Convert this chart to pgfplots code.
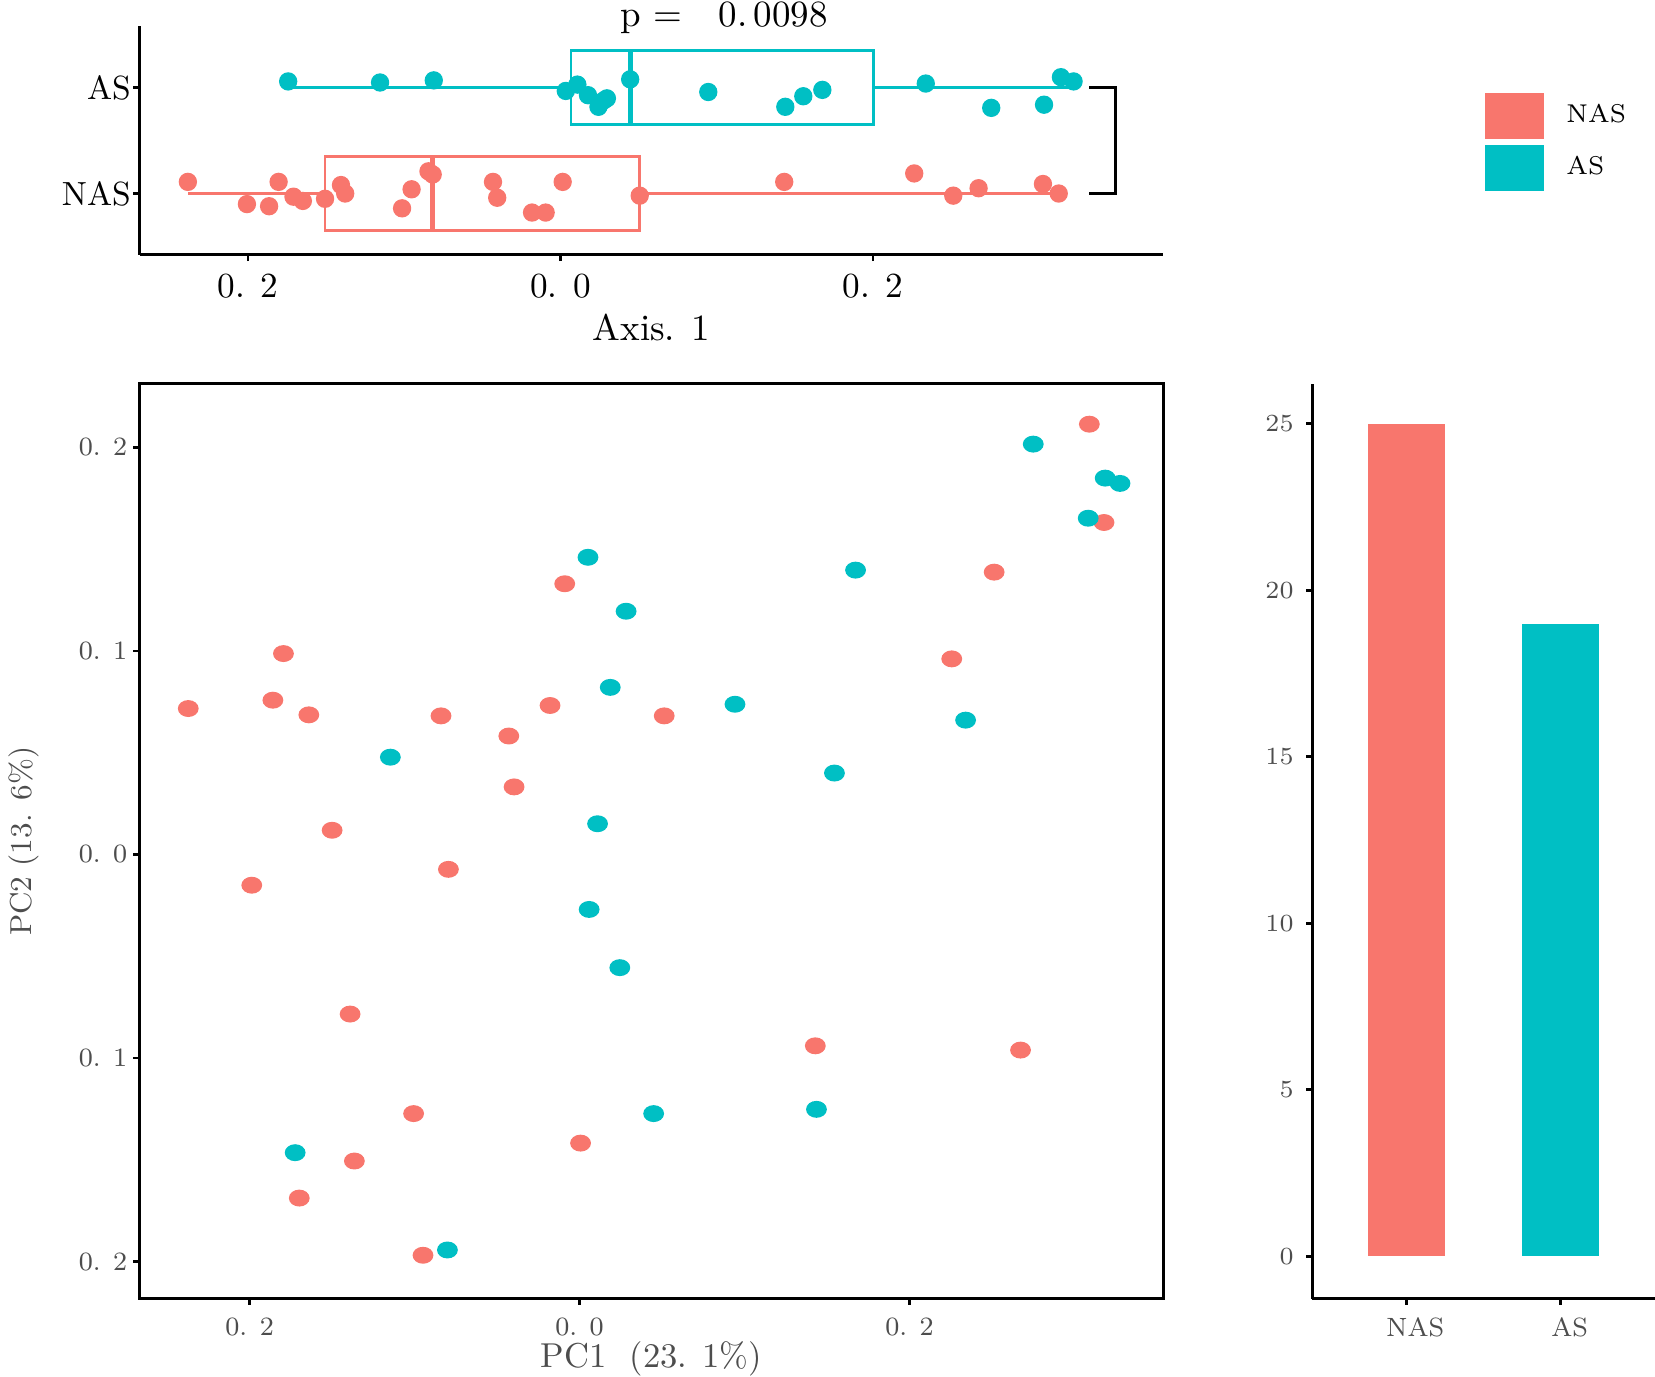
\documentclass[border=0pt]{standalone}
\usepackage{pgfplots}
\pgfplotsset{compat=1.18}
\usepgfplotslibrary{statistics}
\definecolor{nasred}{HTML}{F8766D}
\definecolor{asteal}{HTML}{00BFC4}
\definecolor{tickgray}{HTML}{4D4D4D}
\begin{document}
\begin{tikzpicture}
\useasboundingbox (0,0) rectangle (469.5pt,-390.6pt);
% ---------------- top boxplot panel ----------------
\begin{axis}[
  at={(39.6pt,-7.5pt)}, anchor=north west, scale only axis,
  width=290.4pt, height=64.8pt,
  xmin=-0.2694, xmax=0.3858, ymin=0.42, ymax=2.58,
  axis x line*=bottom, axis y line*=left,
  axis line style={-, line width=0.9pt},
  tick align=outside, major tick length=1.8pt,
  tick style={black, line width=0.8pt},
  xtick={-0.2,0,0.2}, xticklabels={0. 2,0. 0,0. 2},
  ytick={1,2}, yticklabels={NAS,AS},
  tick label style={font=\fontsize{10}{12}\selectfont, black},
  yticklabel style={font=\fontsize{9.5}{12}\selectfont, inner xsep=0.5pt},
  xlabel={Axis. 1},
  xlabel style={font=\fontsize{10.5}{12}\selectfont, at={(axis description cs:0.5,-0.319)}, anchor=center},
  clip=false,
  legend image code/.code={\fill[#1] (0pt,-6.6pt) rectangle (16.5pt,6.6pt);},
  legend style={at={(1.314,0.713)}, anchor=north west, draw=none, fill=none,
    inner sep=0pt, row sep=1.5pt, font=\fontsize{7.3}{9}\selectfont,
    /tikz/every odd column/.append style={column sep=4.5pt}},
  legend cell align=left,
]
\addlegendimage{fill=nasred, draw=none}
\addlegendentry{NAS}
\addlegendimage{fill=asteal, draw=none}
\addlegendentry{AS}
% boxes
\addplot[forget plot, draw=nasred, line width=0.75pt, solid,
  boxplot prepared={lower whisker=-0.2385, lower quartile=-0.1507, median=-0.0818,
    upper quartile=0.0507, upper whisker=0.3189, draw position=1,
    box extend=0.7, whisker extend=0,
    every median/.style={line width=1.5pt}}] coordinates {};
\addplot[forget plot, draw=asteal, line width=0.75pt, solid,
  boxplot prepared={lower whisker=-0.1743, lower quartile=0.0068, median=0.0446,
    upper quartile=0.2005, upper whisker=0.3284, draw position=2,
    box extend=0.7, whisker extend=0,
    every median/.style={line width=1.5pt}}] coordinates {};
% jittered points
\addplot[forget plot, only marks, color=nasred, mark=*, mark size=2.4pt, mark options={draw=nasred, fill=nasred}]
coordinates {
(-0.2385,1.11) (-0.2007,0.90) (-0.1865,0.88) (-0.1804,1.11) (-0.1709,0.97)
(-0.1649,0.93) (-0.1507,0.95) (-0.1405,1.08) (-0.1378,1.00) (-0.1014,0.86)
(-0.0953,1.04) (-0.0845,1.21) (-0.0818,1.18) (-0.0432,1.11) (-0.0405,0.96)
(-0.0182,0.82) (-0.0095,0.82) (0.0014,1.11) (0.0507,0.98) (0.1432,1.11)
(0.2264,1.19) (0.2514,0.98) (0.2676,1.05) (0.3088,1.09) (0.3189,1.00)
};
\addplot[forget plot, only marks, color=asteal, mark=*, mark size=2.4pt, mark options={draw=asteal, fill=asteal}]
coordinates {
(-0.1743,2.06) (-0.1155,2.05) (-0.0811,2.07) (0.0034,1.97) (0.0108,2.03)
(0.0176,1.93) (0.0243,1.82) (0.0277,1.88) (0.0297,1.90) (0.0446,2.08)
(0.0946,1.96) (0.1439,1.82) (0.1554,1.92) (0.1676,1.98) (0.2338,2.04)
(0.2757,1.81) (0.3095,1.84) (0.3203,2.10) (0.3284,2.06)
};
% significance bracket
\addplot[forget plot, black, line width=0.8pt, mark=none] coordinates {
(0.3385,2) (0.3554,2) (0.3554,1) (0.3385,1)};
\node[font=\fontsize{10.5}{12}\selectfont] at (axis cs:0.1047,2.665) {p =\ \ \ 0.\,0098};
\end{axis}
% ---------------- main PCoA scatter ----------------
\begin{axis}[
  at={(39.6pt,-108.9pt)}, anchor=north west, scale only axis,
  width=290.4pt, height=259.5pt,
  xmin=-0.2667, xmax=0.3538, ymin=-0.2182, ymax=0.2312,
  axis line style={line width=0.9pt},
  tick align=outside, major tick length=1.8pt,
  tick style={black, line width=0.8pt},
  xtick pos=bottom, ytick pos=left,
  xtick={-0.2,0,0.2}, xticklabels={0. 2,0. 0,0. 2},
  ytick={-0.2,-0.1,0,0.1,0.2}, yticklabels={0. 2,0. 1,0. 0,0. 1,0. 2},
  tick label style={font=\fontsize{7.5}{9}\selectfont, tickgray},
  yticklabel style={inner xsep=1.5pt},
  xlabel={PC1 \ (23. 1\%)}, ylabel={PC2 (13. 6\%)},
  xlabel style={font=\fontsize{9.8}{12}\selectfont, tickgray, at={(axis description cs:0.5,-0.0659)}, anchor=center},
  ylabel style={font=\fontsize{8.6}{12}\selectfont, tickgray, at={(axis description cs:-0.113,0.5)}, anchor=center},
]
\addplot[only marks, color=nasred, mark=*, mark size=2.2pt, mark options={draw=nasred, fill=nasred, xscale=1.25}]
coordinates {
(-0.2372,0.0717) (-0.1795,0.0987) (-0.1859,0.0758) (-0.1641,0.0686) (-0.1987,-0.0151)
(-0.1500,0.0119) (-0.1391,-0.0784) (-0.1699,-0.1688) (-0.1365,-0.1506) (-0.1006,-0.1273)
(-0.0949,-0.1969) (-0.0840,0.0681) (-0.0795,-0.0073) (-0.0429,0.0582) (-0.0397,0.0332)
(-0.0179,0.0732) (-0.0090,0.1330) (0.0006,-0.1418) (0.0513,0.0681) (0.1429,-0.0940)
(0.2256,0.0961) (0.2513,0.1387) (0.2673,-0.0961) (0.3090,0.2114) (0.3179,0.1631)
};
\addplot[only marks, color=asteal, mark=*, mark size=2.2pt, mark options={draw=asteal, fill=asteal, xscale=1.25}]
coordinates {
(-0.1724,-0.1465) (-0.1147,0.0478) (-0.0801,-0.1943) (0.0051,0.1460) (0.0282,0.1195)
(0.0186,0.0821) (0.0109,0.0151) (0.0058,-0.0270) (0.0244,-0.0556) (0.0449,-0.1273)
(0.0942,0.0738) (0.1436,-0.1252) (0.1545,0.0400) (0.1673,0.1397) (0.2340,0.0660)
(0.2750,0.2016) (0.3083,0.1652) (0.3186,0.1849) (0.3276,0.1823)
};
\end{axis}
% ---------------- bar chart ----------------
\begin{axis}[
  at={(372.3pt,-108.9pt)}, anchor=north west, scale only axis,
  width=97.2pt, height=259.5pt,
  xmin=0.39, xmax=2.61, ymin=-1.27, ymax=26.2,
  axis x line*=bottom, axis y line*=left,
  axis line style={-, line width=0.9pt},
  tick align=outside, major tick length=1.8pt,
  tick style={black, line width=0.8pt},
  xtick={1,2}, xticklabels={NAS,AS}, ytick={0,5,10,15,20,25},
  tick label style={font=\fontsize{7.5}{9}\selectfont, tickgray},
  xticklabel style={xshift=2.5pt},
  ybar, bar width=21.9pt,
]
\addplot[fill=nasred, draw=none, bar shift=0pt] coordinates {(1,25)};
\addplot[fill=asteal, draw=none, bar shift=0pt] coordinates {(2,19)};
\end{axis}
\end{tikzpicture}
\end{document}
